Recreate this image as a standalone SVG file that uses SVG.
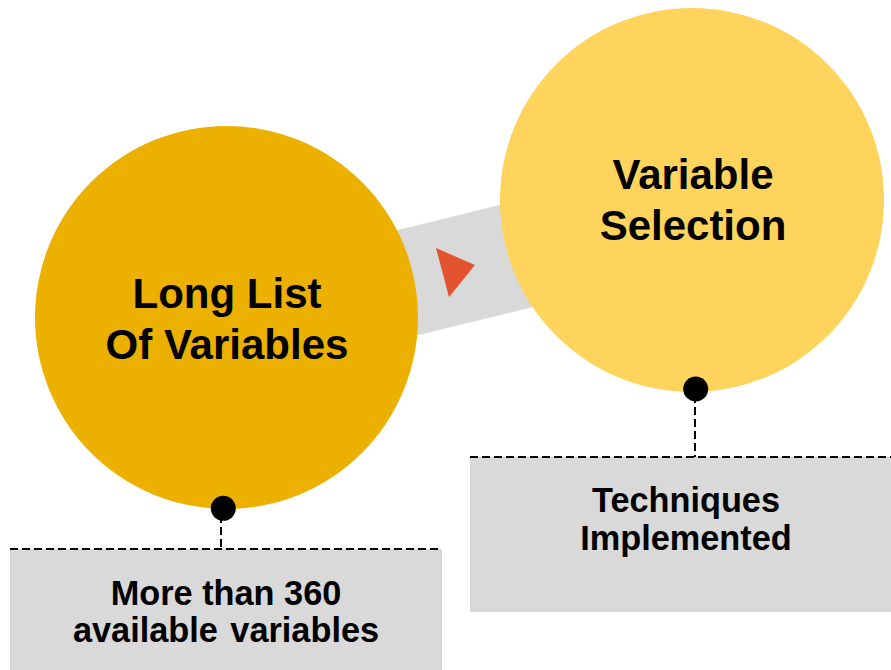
<svg xmlns="http://www.w3.org/2000/svg" width="891" height="670" viewBox="0 0 891 670">
  <style>
    .title { font-family: "Liberation Sans", Arial, sans-serif; font-weight: bold; font-size: 42px; fill: #000; text-anchor: middle; }
    .note { font-family: "Liberation Sans", Arial, sans-serif; font-weight: bold; font-size: 34.3px; fill: #000; text-anchor: middle; }
    .box { fill: #D9D9D9; }
    .dash { fill: none; stroke: #000; stroke-width: 2; stroke-dasharray: 8 4; }
    .pin { fill: #000; }
  </style>
  <rect width="891" height="670" fill="#fff"/>

  <!-- connectors: band between the circles with a direction arrow -->
  <g id="connectors">
    <polygon points="350,241.8 580,185.4 600,290.8 370,346.7" fill="#D9D9D9"/>
    <polygon points="436,248 475,265 449,297" fill="#E4532F"/>
  </g>

  <!-- first stage -->
  <g id="node-long-list">
    <circle cx="226.5" cy="317.5" r="191.5" fill="#EBB000"/>
    <text class="title" x="227" y="308">Long List</text>
    <text class="title" x="227" y="359">Of Variables</text>
  </g>

  <!-- second stage -->
  <g id="node-variable-selection">
    <circle cx="692" cy="200" r="192" fill="#FED45C"/>
    <text class="title" x="693" y="189">Variable</text>
    <text class="title" x="693" y="240">Selection</text>
  </g>

  <!-- callout under the first stage -->
  <g id="note-available">
    <rect class="box" x="10" y="549" width="432" height="121"/>
    <line class="dash" x1="10" y1="549" x2="442" y2="549"/>
    <line class="dash" x1="221" y1="515" x2="221" y2="549"/>
    <circle class="pin" cx="223.3" cy="508.3" r="12.5"/>
    <text class="note" x="226" y="605">More than 360</text>
    <text class="note" x="226" y="642" word-spacing="3">available variables</text>
  </g>

  <!-- callout under the second stage -->
  <g id="note-techniques">
    <rect class="box" x="470" y="457" width="421" height="155"/>
    <line class="dash" x1="470" y1="457" x2="891" y2="457"/>
    <line class="dash" x1="695" y1="395" x2="695" y2="457"/>
    <circle class="pin" cx="695.7" cy="389" r="12.5"/>
    <text class="note" x="686" y="512">Techniques</text>
    <text class="note" x="686" y="550">Implemented</text>
  </g>
</svg>
